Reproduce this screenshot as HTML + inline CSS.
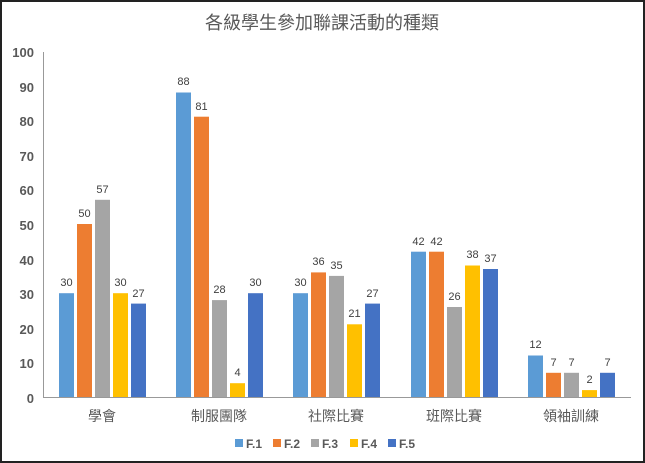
<!DOCTYPE html>
<html><head><meta charset="utf-8"><style>body{margin:0;background:#fff}svg{display:block}</style></head><body>
<svg width="645" height="463" xmlns="http://www.w3.org/2000/svg" font-family="'Liberation Sans','Noto Sans CJK TC',sans-serif">
<rect x="1" y="1" width="643" height="461" fill="#fff" stroke="#222" stroke-width="2"/>
<text x="322" y="29" font-size="18" fill="#595959" text-anchor="middle">各級學生參加聯課活動的種類</text>
<g font-size="13" font-weight="bold" fill="#595959" text-anchor="end">
<text x="34" y="57">100</text><text x="34" y="92">90</text><text x="34" y="126">80</text><text x="34" y="161">70</text><text x="34" y="195">60</text><text x="34" y="230">50</text><text x="34" y="265">40</text><text x="34" y="299">30</text><text x="34" y="334">20</text><text x="34" y="368">10</text><text x="34" y="403">0</text>
</g>
<line x1="43.5" y1="52" x2="43.5" y2="397" stroke="#999" stroke-width="1"/>
<line x1="43" y1="397.5" x2="631" y2="397.5" stroke="#999" stroke-width="1"/>
<g id="bars"></g>
<g font-size="14" fill="#595959" text-anchor="middle">
<text x="102" y="421">學會</text><text x="219" y="421">制服團隊</text><text x="336" y="421">社際比賽</text><text x="454" y="421">班際比賽</text><text x="571" y="421">領袖訓練</text>
</g>
<g font-size="12" font-weight="bold" fill="#595959">
<rect x="235" y="439" width="8" height="8" fill="#5B9BD5"/><text x="246" y="448">F.1</text>
<rect x="273" y="439" width="8" height="8" fill="#ED7D31"/><text x="284" y="448">F.2</text>
<rect x="311" y="439" width="8" height="8" fill="#A5A5A5"/><text x="322" y="448">F.3</text>
<rect x="350" y="439" width="8" height="8" fill="#FFC000"/><text x="361" y="448">F.4</text>
<rect x="388" y="439" width="8" height="8" fill="#4472C4"/><text x="399" y="448">F.5</text>
</g>
<g font-size="11" fill="#404040" text-anchor="middle">
<!-- generated manually -->
<rect x="59" y="293.2" width="15" height="103.8" fill="#5B9BD5"/><text x="66.5" y="286">30</text>
<rect x="77" y="224" width="15" height="173" fill="#ED7D31"/><text x="84.5" y="217">50</text>
<rect x="95" y="199.8" width="15" height="197.2" fill="#A5A5A5"/><text x="102.5" y="193">57</text>
<rect x="113" y="293.2" width="15" height="103.8" fill="#FFC000"/><text x="120.5" y="286">30</text>
<rect x="131" y="303.6" width="15" height="93.4" fill="#4472C4"/><text x="138.5" y="297">27</text>

<rect x="176" y="92.5" width="15" height="304.5" fill="#5B9BD5"/><text x="183.5" y="85">88</text>
<rect x="194" y="116.7" width="15" height="280.3" fill="#ED7D31"/><text x="201.5" y="110">81</text>
<rect x="212" y="300.1" width="15" height="96.9" fill="#A5A5A5"/><text x="219.5" y="293">28</text>
<rect x="230" y="383.2" width="15" height="13.8" fill="#FFC000"/><text x="237.5" y="376">4</text>
<rect x="248" y="293.2" width="15" height="103.8" fill="#4472C4"/><text x="255.5" y="286">30</text>

<rect x="293" y="293.2" width="15" height="103.8" fill="#5B9BD5"/><text x="300.5" y="286">30</text>
<rect x="311" y="272.4" width="15" height="124.6" fill="#ED7D31"/><text x="318.5" y="265">36</text>
<rect x="329" y="275.9" width="15" height="121.1" fill="#A5A5A5"/><text x="336.5" y="269">35</text>
<rect x="347" y="324.3" width="15" height="72.7" fill="#FFC000"/><text x="354.5" y="317">21</text>
<rect x="365" y="303.6" width="15" height="93.4" fill="#4472C4"/><text x="372.5" y="297">27</text>

<rect x="411" y="251.7" width="15" height="145.3" fill="#5B9BD5"/><text x="418.5" y="245">42</text>
<rect x="429" y="251.7" width="15" height="145.3" fill="#ED7D31"/><text x="436.5" y="245">42</text>
<rect x="447" y="307" width="15" height="90" fill="#A5A5A5"/><text x="454.5" y="300">26</text>
<rect x="465" y="265.5" width="15" height="131.5" fill="#FFC000"/><text x="472.5" y="258">38</text>
<rect x="483" y="269" width="15" height="128" fill="#4472C4"/><text x="490.5" y="262">37</text>

<rect x="528" y="355.5" width="15" height="41.5" fill="#5B9BD5"/><text x="535.5" y="348">12</text>
<rect x="546" y="372.8" width="15" height="24.2" fill="#ED7D31"/><text x="553.5" y="366">7</text>
<rect x="564" y="372.8" width="15" height="24.2" fill="#A5A5A5"/><text x="571.5" y="366">7</text>
<rect x="582" y="390.1" width="15" height="6.9" fill="#FFC000"/><text x="589.5" y="383">2</text>
<rect x="600" y="372.8" width="15" height="24.2" fill="#4472C4"/><text x="607.5" y="366">7</text>
</g>
</svg>
</body></html>
